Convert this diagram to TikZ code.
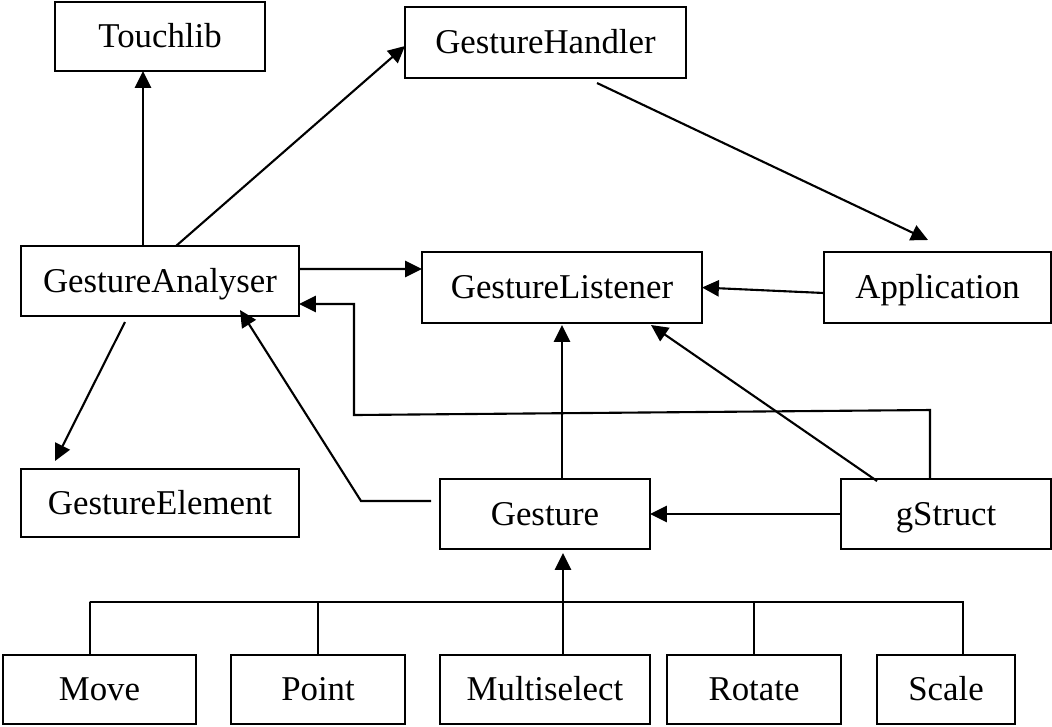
\documentclass[tikz,border=0pt]{standalone}
\usepackage{fontspec}
\setmainfont{Liberation Serif}
\usetikzlibrary{arrows.meta}

\begin{document}
\begin{tikzpicture}[
            box/.style={draw, line width=0.6pt, inner sep=0pt, outer sep=0pt,
                minimum height=0.70cm, text height=0.68em, text depth=0.05em,
                font=\fontsize{9.9}{12}\selectfont},
            arr/.style={line width=0.6pt, -{Triangle[length=4.8pt,width=4.6pt]}},
            link/.style={line width=0.6pt}
        ]
            \useasboundingbox (0,0) rectangle (10.52,7.26);

            % top row
            \node[box, minimum width=2.10cm, minimum height=0.69cm] (touchlib) at (1.60,6.895) {Touchlib};
            \node[box, minimum width=2.81cm, minimum height=0.71cm] (handler) at (5.455,6.835) {GestureHandler};

            % middle rows
            \node[box, minimum width=2.78cm] (analyser) at (1.60,4.45) {GestureAnalyser};
            \node[box, minimum width=2.80cm, minimum height=0.71cm] (listener) at (5.62,4.385) {GestureListener};
            \node[box, minimum width=2.27cm, minimum height=0.71cm] (application) at (9.375,4.385) {Application};
            \node[box, minimum width=2.78cm, minimum height=0.68cm] (element) at (1.60,2.23) {GestureElement};
            \node[box, minimum width=2.10cm] (gesture) at (5.45,2.12) {Gesture};
            \node[box, minimum width=2.10cm] (gstruct) at (9.46,2.12) {gStruct};

            % gesture types
            \node[box, minimum width=1.93cm, minimum height=0.69cm] (move) at (0.995,0.365) {Move};
            \node[box, minimum width=1.74cm, minimum height=0.69cm] (point) at (3.18,0.365) {Point};
            \node[box, minimum width=2.10cm, minimum height=0.69cm] (multi) at (5.45,0.365) {Multiselect};
            \node[box, minimum width=1.74cm, minimum height=0.69cm] (rotate) at (7.54,0.365) {Rotate};
            \node[box, minimum width=1.38cm, minimum height=0.69cm] (scale) at (9.46,0.365) {Scale};

            \coordinate (bus) at (0.90,1.24);
            \coordinate (back) at (3.54,3.11);

            \draw[arr] ([xshift=-0.17cm]analyser.north) -- ([xshift=-0.17cm]touchlib.south);
            \draw[arr] ([xshift=0.16cm]analyser.north) -- ([yshift=-0.035cm]handler.west);
            \draw[arr] ([xshift=0.515cm,yshift=-0.05cm]handler.south) -- ([xshift=-0.095cm,yshift=0.12cm]application.north);
            \draw[arr] ([yshift=0.12cm]analyser.east) -- ([yshift=0.185cm]listener.west);
            \draw[arr] ([yshift=-0.055cm]application.west) -- (listener.east);
            \draw[arr] ([xshift=-0.35cm,yshift=-0.06cm]analyser.south) -- ([xshift=-1.05cm,yshift=0.08cm]element.north);

            \draw[arr] ([xshift=0.17cm]gesture.north) -- ([yshift=-0.02cm]listener.south);
            \draw[arr] ([xshift=-0.69cm,yshift=-0.02cm]gstruct.north) -- ([xshift=0.89cm,yshift=-0.02cm]listener.south);
            \draw[arr] (gstruct.west) -- (gesture.east);
            \draw[arr] ([xshift=-0.09cm,yshift=0.13cm]gesture.west) -- ++(-0.70,0) -- ([xshift=0.80cm,yshift=0.06cm]analyser.south);
            \draw[arr] ([xshift=-0.16cm]gstruct.north) -- ++(0,0.69) -- (back) |- ([yshift=-0.23cm]analyser.east);

            % inheritance bus
            \draw[link] ([xshift=-0.095cm]move.north) |- (bus) -| ([xshift=0.17cm]scale.north);
            \draw[link] (point.north) -- (point.north |- bus);
            \draw[link] (rotate.north) -- (rotate.north |- bus);
            \draw[arr] ([xshift=0.18cm]multi.north) -- ([xshift=0.18cm,yshift=-0.04cm]gesture.south);
        \end{tikzpicture}
\end{document}
